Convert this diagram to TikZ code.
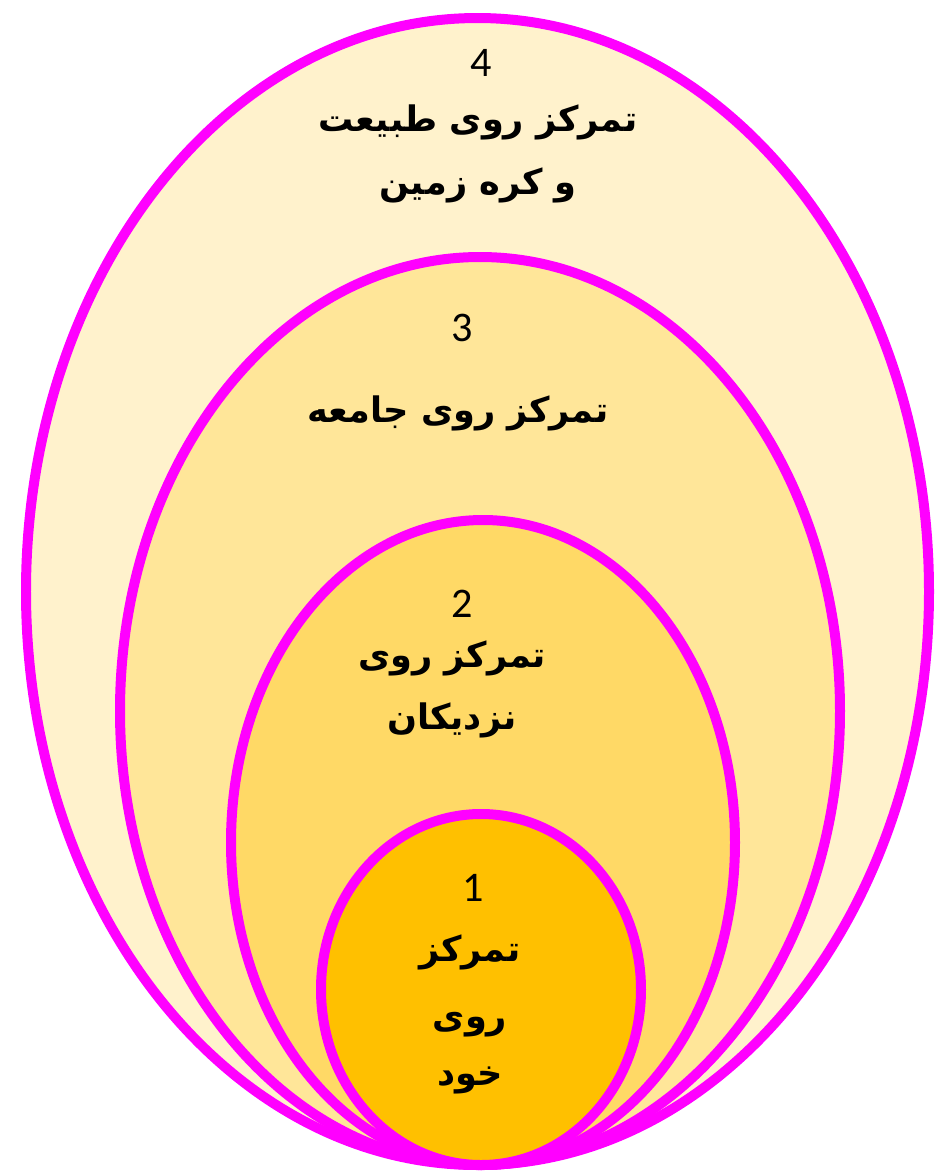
\documentclass[tikz,border=0pt]{standalone}
\usepackage{fontspec}
\setmainfont{Carlito}
\newfontfamily\arabicfont[Script=Arabic]{DejaVu Sans}
\TeXXeTstate=1
\usetikzlibrary{positioning}
\definecolor{ringpink}{RGB}{255,0,255}
\definecolor{fillfour}{RGB}{255,242,204}
\definecolor{fillthree}{RGB}{255,230,153}
\definecolor{filltwo}{RGB}{255,217,102}
\definecolor{fillone}{RGB}{255,192,0}

\begin{document}
\begin{tikzpicture}[x=0.02cm,y=-0.02cm,
    ring/.style={draw=ringpink, line width=0.2cm},
    num/.style={font=\fontsize{24}{28}\selectfont},
    lbl/.style={font=\arabicfont\bfseries\fontsize{20}{24}\selectfont}]
    \useasboundingbox[fill=white] (0,0) rectangle (938,1174);
    % Rings
    \draw[ring, fill=fillfour] (477.5,591.5) ellipse [x radius=451.5, y radius=573.5];
    \draw[ring, fill=fillthree] (480,711) ellipse [x radius=360, y radius=454];
    \draw[ring, fill=filltwo] (483,842.5) ellipse [x radius=252, y radius=322.5];
    \draw[ring, fill=fillone] (481,989.5) ellipse [x radius=160, y radius=175.5];
    % Ring 4
    \node[num] (n4) at (481,63) {4};
    \node[lbl] (t4a) at (478,122) {\beginR تمرکز روی طبیعت\endR};
    \node[lbl] (t4b) at (478,185) {\beginR و کره زمین\endR};
    % Ring 3
    \node[num] (n3) at (462,328) {3};
    \node[lbl] (t3a) at (458,413) {\beginR تمرکز روی جامعه\endR};
    % Ring 2
    \node[num] (n2) at (462,604) {2};
    \node[lbl] (t2a) at (452,658) {\beginR تمرکز روی\endR};
    \node[lbl] (t2b) at (452,720) {\beginR نزدیکان\endR};
    % Ring 1
    \node[num] (n1) at (473,888) {1};
    \node[lbl] (t1a) at (470,952) {\beginR تمرکز\endR};
    \node[lbl] (t1b) at (470,1025) {\beginR روی\endR};
    \node[lbl] (t1c) at (470,1080) {\beginR خود\endR};
\end{tikzpicture}
\end{document}
